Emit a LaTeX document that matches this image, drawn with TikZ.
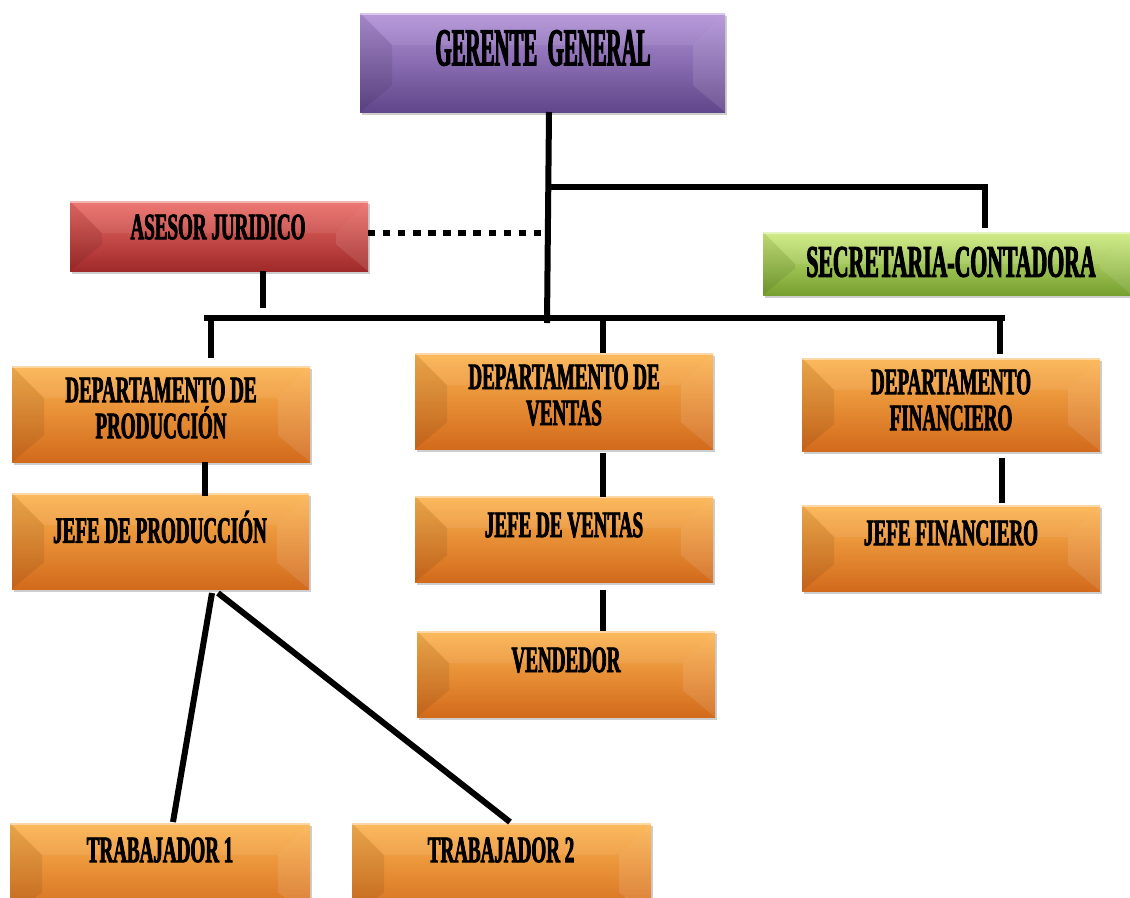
\documentclass[tikz,border=0pt]{standalone}
\usepackage{fontspec}
\usetikzlibrary{calc,shadows}
% condensed heavy serif for the box captions
\newfontfamily\orgfont[FakeStretch=0.51,FakeBold=2]{Liberation Serif}
\newfontfamily\orgfontwide[FakeStretch=0.48,FakeBold=2]{Liberation Serif}
\newfontfamily\orgfontnarrow[FakeStretch=0.39,FakeBold=2]{Liberation Serif}

% box colours: light top, main middle, dark bottom
\definecolor{purT}{RGB}{178,146,216}
\definecolor{purM}{RGB}{118,90,166}
\definecolor{purB}{RGB}{96,70,138}
\definecolor{redT}{RGB}{236,110,104}
\definecolor{redM}{RGB}{198,62,58}
\definecolor{redB}{RGB}{160,42,42}
\definecolor{grnT}{RGB}{206,236,128}
\definecolor{grnM}{RGB}{148,196,66}
\definecolor{grnB}{RGB}{118,160,48}
\definecolor{orgT}{RGB}{252,180,80}
\definecolor{orgM}{RGB}{242,144,42}
\definecolor{orgB}{RGB}{210,106,28}

\tikzset{
  bevel/.style={
    rectangle, draw=none, inner sep=0pt, outer sep=0pt,
    drop shadow={opacity=0.28, shadow xshift=1.5pt, shadow yshift=-2.5pt, fill=black!70},
    path picture={
      \fill[black,opacity=0.08] (path picture bounding box.north west)
        -- ++(24pt,-24pt) -- ($(path picture bounding box.south west)+(24pt,20pt)$)
        -- (path picture bounding box.south west) -- cycle;
      \fill[white,opacity=0.10] (path picture bounding box.north east)
        -- ++(-24pt,-24pt) -- ($(path picture bounding box.south east)+(-24pt,20pt)$)
        -- (path picture bounding box.south east) -- cycle;
      \fill[white,opacity=0.08] (path picture bounding box.north west)
        -- ++(24pt,-24pt) -- ($(path picture bounding box.north east)+(-24pt,-24pt)$)
        -- (path picture bounding box.north east) -- cycle;
      \fill[white,opacity=0.45] (path picture bounding box.north west)
        rectangle ($(path picture bounding box.north east)+(0,-1.5pt)$);
    }},
  purplebox/.style={bevel, top color=purT, middle color=purM, bottom color=purB},
  redbox/.style={bevel, top color=redT, middle color=redM, bottom color=redB},
  greenbox/.style={bevel, top color=grnT, middle color=grnM, bottom color=grnB},
  orangebox/.style={bevel, top color=orgT, middle color=orgM, bottom color=orgB},
  lbl/.style={inner sep=0pt, align=center, text=black,
    font=\orgfont\bfseries\fontsize{28}{27}\selectfont},
  biglbl/.style={lbl, font=\orgfontnarrow\bfseries\fontsize{40}{40}\selectfont},
  midlbl/.style={lbl, font=\orgfontwide\bfseries\fontsize{34}{34}\selectfont},
  link/.style={line width=4.5pt, black},
  dotlink/.style={line width=4.5pt, black, dash pattern=on 5.5pt off 5.8pt}
}

% \orgbox{name}{box style}{x1}{y1}{x2}{y2}: a bevelled box between two corners
\newcommand{\orgbox}[6]{%
  \node[#2, minimum width={(#5-#3)*0.75pt}, minimum height={(#6-#4)*0.75pt}]
    (#1) at ({(#3+#5)/2},{(#4+#6)/2}) {};%
}

\begin{document}
\begin{tikzpicture}[x=0.75pt,y=-0.75pt]
  \useasboundingbox (0,0) rectangle (1130,897);
  \clip (0,0) rectangle (1130,897);

  % boxes
  \orgbox{gg}{purplebox}{360}{13}{725}{112}
  \orgbox{aj}{redbox}{70}{201}{368}{271}
  \orgbox{sc}{greenbox}{763}{232}{1132}{295}
  \orgbox{dp}{orangebox}{12}{366}{310}{462}
  \orgbox{dv}{orangebox}{415}{353}{713}{449}
  \orgbox{df}{orangebox}{802}{358}{1100}{451}
  \orgbox{jp}{orangebox}{12}{493}{309}{589}
  \orgbox{jv}{orangebox}{415}{496}{713}{582}
  \orgbox{jf}{orangebox}{802}{505}{1100}{591}
  \orgbox{ve}{orangebox}{417}{631}{715}{717}
  \orgbox{ta}{orangebox}{10}{823}{310}{919}
  \orgbox{tb}{orangebox}{352}{823}{651}{919}

  % captions
  \node[biglbl] (gg-t) at (543,48) {GERENTE\ \ GENERAL};
  \node[lbl] (aj-t) at (218,227) {ASESOR JURIDICO};
  \node[midlbl] (sc-t) at (951,262) {SECRETARIA-CONTADORA};
  \node[lbl] (dp-t) at (161,408) {DEPARTAMENTO DE\\PRODUCCIÓN};
  \node[lbl] (dv-t) at (564,395) {DEPARTAMENTO DE\\VENTAS};
  \node[lbl] (df-t) at (951,400) {DEPARTAMENTO\\FINANCIERO};
  \node[lbl] (jp-t) at (160,527) {JEFE DE PRODUCCIÓN};
  \node[lbl] (jv-t) at (564,525) {JEFE DE VENTAS};
  \node[lbl] (jf-t) at (951,533) {JEFE FINANCIERO};
  \node[lbl] (ve-t) at (566,660) {VENDEDOR};
  \node[lbl] (ta-t) at (160,850) {TRABAJADOR 1};
  \node[lbl] (tb-t) at (501,850) {TRABAJADOR 2};

  % junctions of the main trunk
  \coordinate (trunkA) at (549,187);
  \coordinate (trunkB) at (549,233);
  \coordinate (trunkC) at (547,323);
  \coordinate (busL) at (204,318);
  \coordinate (busR) at (1005,318);

  % trunk from the general manager
  \draw[link] (gg.south -| trunkA) -- (trunkC);
  \draw[link] (trunkA) -| ($(sc.north)+(37,-4)$);
  \draw[dotlink] (aj.east |- trunkB) -- (trunkB);
  \draw[link] ($(aj.south)+(44,0)$) -- +(0,37);

  % department bus
  \draw[link] (busL) -- (busR);
  \draw[link] ($(dp.north)+(50,-8)$) -- +(0,-40);
  \draw[link] ($(dv.north)+(39,0)$) -- +(0,-35);
  \draw[link] ($(df.north)+(49,-4)$) -- +(0,-36);

  % departments to their heads
  \draw[link] ($(dp.south)+(44,0)$) -- ($(jp.north)+(44.5,3)$);
  \draw[link] ($(dv.south)+(39,4)$) -- ($(jv.north)+(39,1)$);
  \draw[link] ($(df.south)+(51,7)$) -- ($(jf.north)+(51,-2)$);
  \draw[link] ($(jv.south)+(39,8)$) -- ($(ve.north)+(37,0)$);

  % production head to the workers
  \draw[link] ($(jp.south)+(51.5,4)$) -- ($(ta.north)+(13,-1)$);
  \draw[link] ($(jp.south)+(57.5,4)$) -- ($(tb.north)+(8.5,-1)$);
\end{tikzpicture}
\end{document}
